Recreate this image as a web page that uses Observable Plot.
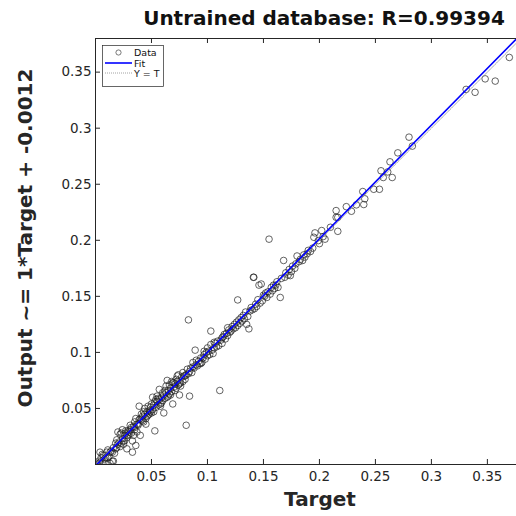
<!DOCTYPE html>
<html>
<head>
<meta charset="utf-8">
<script src="https://cdn.jsdelivr.net/npm/d3@7"></script>
<script src="https://cdn.jsdelivr.net/npm/@observablehq/plot@0.6"></script>
<style>
  html, body { margin: 0; padding: 0; background: white; }
  #chart { width: 516px; height: 516px; }
</style>
</head>
<body>
<div id="chart"></div>
<script>
const titleText = "Untrained database: R=0.99394";
const xLabel = "Target";
const yLabel = "Output ~= 1*Target + -0.0012";
const legendLabels = ["Data", "Fit", "Y = T"];

const xTicks = [0.05, 0.1, 0.15, 0.2, 0.25, 0.3, 0.35];
const yTicks = [0.05, 0.1, 0.15, 0.2, 0.25, 0.3, 0.35];
const xDomain = [0, 0.376];
const yDomain = [0, 0.38];

const fitSlope = 1.013;
const fitIntercept = -0.0012;

const target = [
0.001,0.002,0.003,0.004,0.005,0.006,0.007,0.008,0.009,0.010,
0.011,0.012,0.013,0.014,0.015,0.016,0.017,0.018,0.019,0.020,
0.004,0.006,0.009,0.011,0.013,0.015,0.016,0.018,0.019,0.020,
0.021,0.022,0.023,0.024,0.025,0.026,0.027,0.028,0.029,0.030,
0.031,0.032,0.033,0.034,0.035,0.036,0.037,0.038,0.039,0.040,
0.041,0.042,0.043,0.044,0.045,0.046,0.047,0.048,0.049,0.050,
0.023,0.025,0.027,0.029,0.031,0.033,0.035,0.037,0.039,0.041,
0.022,0.026,0.028,0.032,0.034,0.036,0.038,0.042,0.044,0.046,
0.024,0.030,0.035,0.040,0.043,0.045,0.047,0.048,0.049,0.050,
0.051,0.052,0.053,0.054,0.055,0.056,0.057,0.058,0.059,0.060,
0.061,0.062,0.063,0.064,0.065,0.066,0.067,0.068,0.069,0.070,
0.071,0.072,0.073,0.074,0.075,0.076,0.077,0.078,0.079,0.080,
0.051,0.054,0.057,0.059,0.061,0.063,0.066,0.068,0.071,0.073,
0.052,0.055,0.058,0.060,0.062,0.064,0.067,0.069,0.072,0.075,
0.053,0.056,0.065,0.070,0.074,0.076,0.078,0.080,0.081,0.084,
0.081,0.082,0.083,0.084,0.085,0.086,0.087,0.088,0.089,0.090,
0.091,0.092,0.093,0.094,0.095,0.096,0.097,0.098,0.099,0.100,
0.101,0.102,0.103,0.104,0.105,0.106,0.107,0.108,0.109,0.110,
0.111,0.112,0.113,0.114,0.115,0.116,0.117,0.118,0.119,0.120,
0.083,0.087,0.090,0.094,0.097,0.100,0.103,0.106,0.113,0.118,
0.121,0.122,0.123,0.124,0.125,0.126,0.127,0.128,0.129,0.130,
0.131,0.132,0.133,0.134,0.135,0.136,0.137,0.138,0.139,0.140,
0.141,0.142,0.143,0.144,0.145,0.146,0.147,0.148,0.149,0.150,
0.151,0.152,0.153,0.154,0.155,0.156,0.157,0.158,0.159,0.160,
0.161,0.162,0.163,0.165,0.166,0.168,0.169,0.170,0.172,0.173,
0.174,0.175,0.176,0.178,0.179,0.180,0.182,0.183,0.185,0.186,
0.187,0.189,0.190,0.192,0.194,0.195,0.196,0.199,0.200,0.202,
0.2033,0.205,0.2098,0.2149,0.2149,0.2164,0.2164,0.224,0.2286,0.233,
0.2387,0.2396,0.2405,0.2485,0.2536,0.255,0.257,0.261,0.263,0.265,
0.270,0.280,0.283,0.331,0.339,0.348,0.357,0.3696,0.127,0.1414
];
const output = [
0.001,0.000,0.003,0.002,0.006,0.002,0.008,0.005,0.001,0.011,
0.013,0.007,0.001,0.012,0.003,0.015,0.010,0.019,0.015,0.018,
0.011,0.009,0.006,0.006,0.011,0.011,0.003,0.014,0.022,0.029,
0.020,0.027,0.019,0.023,0.018,0.026,0.028,0.024,0.030,0.027,
0.031,0.028,0.011,0.034,0.031,0.017,0.036,0.035,0.052,0.026,
0.040,0.043,0.038,0.045,0.041,0.047,0.044,0.048,0.051,0.046,
0.028,0.021,0.030,0.026,0.035,0.021,0.038,0.029,0.040,0.045,
0.016,0.021,0.014,0.033,0.026,0.041,0.036,0.039,0.050,0.043,
0.031,0.029,0.033,0.041,0.047,0.036,0.052,0.045,0.047,0.054,
0.049,0.053,0.030,0.051,0.056,0.053,0.058,0.054,0.060,0.057,
0.062,0.059,0.064,0.060,0.066,0.063,0.068,0.065,0.054,0.069,
0.072,0.068,0.074,0.071,0.062,0.073,0.078,0.074,0.079,0.076,
0.060,0.058,0.067,0.055,0.046,0.070,0.071,0.074,0.066,0.079,
0.047,0.061,0.052,0.064,0.066,0.075,0.062,0.073,0.076,0.072,
0.056,0.059,0.061,0.073,0.080,0.070,0.082,0.079,0.035,0.061,
0.080,0.085,0.081,0.083,0.086,0.082,0.087,0.086,0.102,0.089,
0.088,0.092,0.090,0.095,0.091,0.095,0.098,0.094,0.100,0.097,
0.101,0.098,0.107,0.102,0.099,0.104,0.108,0.105,0.110,0.106,
0.066,0.111,0.108,0.114,0.116,0.112,0.117,0.115,0.120,0.118,
0.129,0.091,0.093,0.090,0.101,0.104,0.119,0.109,0.113,0.122,
0.119,0.123,0.121,0.125,0.122,0.127,0.124,0.129,0.126,0.131,
0.128,0.133,0.130,0.136,0.125,0.132,0.121,0.137,0.140,0.138,
0.167,0.139,0.143,0.141,0.147,0.160,0.144,0.161,0.146,0.151,
0.150,0.153,0.149,0.154,0.201,0.152,0.158,0.155,0.160,0.157,
0.160,0.163,0.158,0.149,0.166,0.182,0.167,0.171,0.169,0.174,
0.1685,0.172,0.177,0.175,0.179,0.186,0.181,0.183,0.182,0.187,
0.185,0.188,0.191,0.190,0.193,0.2027,0.2066,0.1997,0.197,0.2087,
0.2033,0.201,0.2116,0.2265,0.2205,0.2205,0.208,0.230,0.2259,0.2316,
0.2435,0.2319,0.237,0.2455,0.2455,0.262,0.256,0.261,0.270,0.256,
0.278,0.292,0.284,0.3346,0.332,0.344,0.342,0.3631,0.1468,0.167
];

const data = target.map((t, i) => ({t, o: output[i]}));
const fitLine = xDomain.map(t => ({t, o: fitSlope * t + fitIntercept}));
const identity = yDomain.map(t => ({t, o: t}));

const W = 516, H = 516;
const mT = 38, mR = 0, mB = 52, mL = 95;
const fw = W - mL - mR, fh = H - mT - mB;
const axisColor = "#262626";

const chart = Plot.plot({
  width: W, height: H,
  marginTop: mT, marginRight: mR, marginBottom: mB, marginLeft: mL,
  x: {domain: xDomain},
  y: {domain: yDomain},
  style: {fontFamily: "DejaVu Sans", fontSize: "13.5px", color: axisColor, background: "white"},
  marks: [
    Plot.dot(data, {x: "t", y: "o", r: 3.3, stroke: "#222", strokeWidth: 0.7, fill: "none", clip: true}),
    Plot.line(identity, {x: "t", y: "o", stroke: "#8a8a8a", strokeWidth: 0.8, strokeDasharray: "1,1", clip: true}),
    Plot.line(fitLine, {x: "t", y: "o", stroke: "#0000ff", strokeWidth: 1.6, clip: true}),
    Plot.ruleX([xDomain[0]], {stroke: axisColor, strokeWidth: 1}),
    Plot.ruleY([yDomain[0]], {stroke: axisColor, strokeWidth: 1}),
    Plot.ruleY([yDomain[1]], {stroke: axisColor, strokeWidth: 1}),
    Plot.tickX(xTicks, {x: d => d, insetTop: fh - 5, stroke: axisColor}),
    Plot.tickX(xTicks, {x: d => d, insetBottom: fh - 5, stroke: axisColor}),
    Plot.tickY(yTicks, {y: d => d, insetRight: fw - 5, stroke: axisColor}),
    Plot.axisX({ticks: xTicks, tickSize: 0, tickPadding: 7, label: null, tickFormat: d => String(d)}),
    Plot.axisY({ticks: yTicks, tickSize: 0, tickPadding: 4, label: null, tickFormat: d => String(d)})
  ]
});

const svg = d3.select(chart);
svg.append("text")
  .attr("x", 324).attr("y", 25)
  .attr("text-anchor", "middle")
  .attr("font-family", "DejaVu Sans").attr("font-weight", "bold").attr("font-size", "20px")
  .attr("fill", "#111").text(titleText);
svg.append("text")
  .attr("x", 320).attr("y", 506)
  .attr("text-anchor", "middle")
  .attr("font-family", "DejaVu Sans").attr("font-weight", "bold").attr("font-size", "20px")
  .attr("fill", "#262626").text(xLabel);
svg.append("text")
  .attr("transform", "translate(32,238) rotate(-90)")
  .attr("text-anchor", "middle")
  .attr("font-family", "DejaVu Sans").attr("font-weight", "bold").attr("font-size", "20px")
  .attr("fill", "#262626").text(yLabel);

// legend
const lg = svg.append("g");
lg.append("rect").attr("x", 102.5).attr("y", 45.5).attr("width", 61).attr("height", 41)
  .attr("fill", "white").attr("stroke", axisColor).attr("stroke-width", 0.7);
lg.append("circle").attr("cx", 118.5).attr("cy", 52.5).attr("r", 2.6)
  .attr("fill", "none").attr("stroke", "#222").attr("stroke-width", 0.6);
lg.append("line").attr("x1", 105).attr("x2", 132).attr("y1", 63).attr("y2", 63)
  .attr("stroke", "#0000ff").attr("stroke-width", 1.6);
lg.append("line").attr("x1", 105).attr("x2", 132).attr("y1", 73).attr("y2", 73)
  .attr("stroke", "#8a8a8a").attr("stroke-width", 0.8).attr("stroke-dasharray", "1,1");
legendLabels.forEach((s, i) => {
  lg.append("text").attr("x", 134).attr("y", 56 + i * 10.5)
    .attr("text-anchor", "start")
    .attr("font-family", "DejaVu Sans").attr("font-size", "9.5px")
    .attr("fill", "#111").text(s);
});

document.getElementById("chart").appendChild(chart);
</script>
</body>
</html>
